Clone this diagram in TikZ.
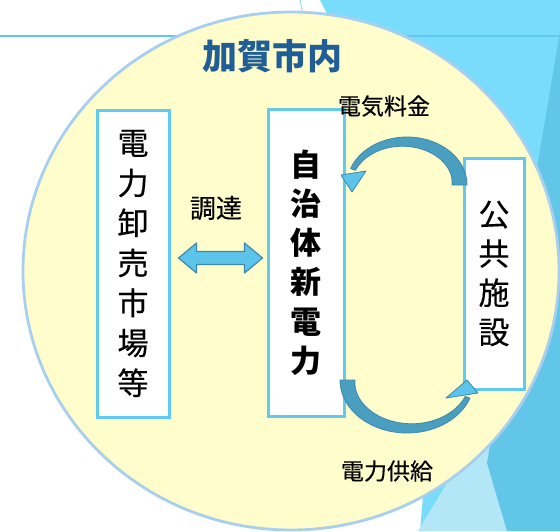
\documentclass[tikz,border=0pt]{standalone}
\usepackage{fontspec}
\newfontfamily\jp[FakeBold=0.35]{Noto Sans CJK JP}
\newfontfamily\jpb{Noto Sans CJK JP}
\usetikzlibrary{calc}
\definecolor{cyanA}{HTML}{79DCFB}
\definecolor{cyanD}{HTML}{62C6E8}
\definecolor{cyanL}{HTML}{B3E6F6}
\definecolor{lineB}{HTML}{5EC8EE}
\definecolor{ringB}{HTML}{A8CFEE}
\definecolor{fillY}{HTML}{FFFDCB}
\definecolor{boxB}{HTML}{5FCBEF}
\definecolor{titleB}{HTML}{1F5E96}
\definecolor{arrD}{HTML}{4A9EC0}
\definecolor{arrL}{HTML}{5CC4EA}
\definecolor{arrO}{HTML}{3E8AAB}
\begin{document}
\begin{tikzpicture}[x=1pt,y=-1pt,
  vbox/.style={draw=boxB, line width=3pt, fill=white, inner sep=0pt, align=center,
    font=\jp\fontsize{31}{40}\selectfont},
  lbl/.style={font=\jp\fontsize{23}{23}\selectfont, inner sep=0pt},
  bodyarrow/.style={fill=arrD, draw=arrO, line width=0.8pt, line join=round},
  headarrow/.style={fill=arrL, draw=arrO, line width=0.8pt, line join=round},
  dblarrow/.style={fill=arrL, draw=arrO, line width=1.2pt, line join=round}]
\fill[white] (0,0) rectangle (560,531);
\useasboundingbox (0,0) rectangle (560,531);
\clip (0,0) rectangle (560,531);
% background facets
\fill[cyanA] (320,0) -- (560,0) -- (560,531) -- (420,531) -- (440,300) -- (335,30) -- cycle;
\fill[cyanL] (418,531) -- (470,445) -- (492,445) -- (507,531) -- cycle;
\fill[cyanD] (562,20) -- (487,463) -- (507,531) -- (560,531) -- cycle;
\draw[lineB, line width=1.5pt] (0,36) -- (560,36);
\draw[cyanL!70!lineB, line width=1pt] (300,0) -- (303,15);
% ring
\draw[ringB, fill=fillY, line width=2.8pt] (291,271) ellipse [x radius=268, y radius=259];
% title
\node[font=\jpb\bfseries\fontsize{35}{35}\selectfont, text=titleB, inner sep=0pt] (title) at (272,56) {加賀市内};
% boxes
\node[vbox, minimum width=72pt, minimum height=307pt] (mkt) at (133,263.5) {電\\力\\卸\\売\\市\\場\\等};
\node[vbox, font=\jpb\bfseries\fontsize{31}{39.2}\selectfont, minimum width=76pt, minimum height=307pt] (ppa) at (306,262.5) {自\\治\\体\\新\\電\\力};
\node[vbox, font=\jp\fontsize{31}{39.3}\selectfont, minimum width=60pt, minimum height=231pt] (pub) at (494,273.5) {公\\共\\施\\設};
% labels
\node[lbl] (fee) at (384,106) {電気料金};
\node[lbl, font=\jp\fontsize{26}{26}\selectfont] (proc) at (216,208) {調達};
\node[lbl] (supply) at (387,471) {電力供給};
% double arrow between market and PPS
\coordinate (dl) at ($(mkt.east |- 0,258)+(8,0)$);
\coordinate (dr) at ($(ppa.west |- 0,258)+(-4,0)$);
\filldraw[dblarrow] (dl) -- ++(18,-15) -- ++(0,8.5) -- ($(dr)+(-18,-6.5)$) -- ++(0,-8.5) -- (dr)
  -- ++(-18,15) -- ++(0,-8.5) -- ($(dl)+(18,6.5)$) -- ++(0,8.5) -- cycle;
% curved arrow: fee (public facilities -> PPS)
\filldraw[bodyarrow]
  plot[domain=0:160, samples=50] ({407+60*cos(\x)},{185-48*sin(\x)})
  -- plot[domain=160:0, samples=50] ({407+(45+10*\x/160)*cos(\x)},{185-(33+10*\x/160)*sin(\x)}) -- cycle;
\filldraw[headarrow] (341,175) -- (352,192) -- (366,171) -- cycle;
% curved arrow: supply (PPS -> public facilities)
\filldraw[bodyarrow]
  plot[domain=180:20, samples=50] ({407+67*cos(\x)},{380+53*sin(\x)})
  -- plot[domain=20:180, samples=50] ({407+(62-10*(\x-20)/160)*cos(\x)},{380+(48-10*(\x-20)/160)*sin(\x)}) -- cycle;
\filldraw[headarrow] (446,398) -- (467,380) -- (478,393) -- cycle;
\end{tikzpicture}
\end{document}
